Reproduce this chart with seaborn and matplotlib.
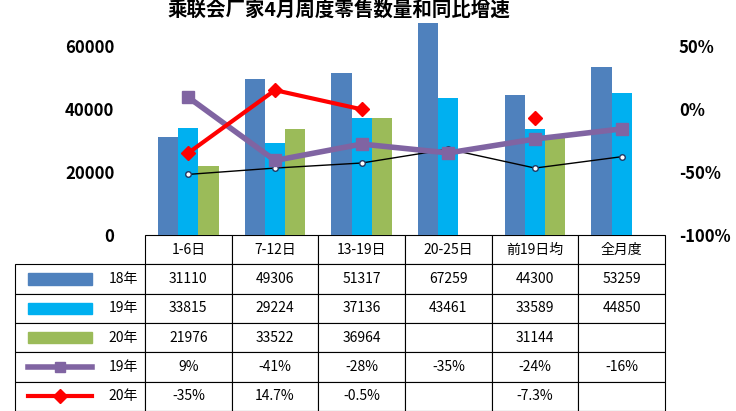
import matplotlib
matplotlib.use("Agg")
import matplotlib.pyplot as plt
from matplotlib import font_manager
from matplotlib.lines import Line2D
from matplotlib.patches import Rectangle
import seaborn as sns
import numpy as np
import pandas as pd

cjk = [f.name for f in font_manager.fontManager.ttflist if "CJK" in f.name]
plt.rcParams["font.family"] = "sans-serif"
plt.rcParams["font.sans-serif"] = ["Noto Sans CJK SC"] + sorted(set(cjk)) + ["DejaVu Sans"]

categories = ["1-6日", "7-12日", "13-19日", "20-25日", "前19日均", "全月度"]
sales_18 = [31110, 49306, 51317, 67259, 44300, 53259]
sales_19 = [33815, 29224, 37136, 43461, 33589, 44850]
sales_20 = [21976, 33522, 36964, np.nan, 31144, np.nan]
yoy_19 = [9, -41, -28, -35, -24, -16]
yoy_20 = [-35, 14.7, -0.5, np.nan, -7.3, np.nan]
yoy_other = [-52, -47, -43, -32, -47, -38]  # unlabeled black line

row_labels = ["18年", "19年", "20年", "19年", "20年"]
yoy19_txt = ["9%", "-41%", "-28%", "-35%", "-24%", "-16%"]
yoy20_txt = ["-35%", "14.7%", "-0.5%", "", "-7.3%", ""]

c18, c19, c20 = "#4F81BD", "#00B0F0", "#9BBB59"
purple, red = "#8064A2", "#FF0000"

df = pd.DataFrame({
    "cat": categories * 3,
    "series": ["18年"] * 6 + ["19年"] * 6 + ["20年"] * 6,
    "val": sales_18 + sales_19 + sales_20,
})

fig = plt.figure(figsize=(7.36, 4.11), dpi=100)
ax = fig.add_axes([145 / 736, 1 - 235 / 411, 520 / 736, 221 / 411])
sns.barplot(data=df, x="cat", y="val", hue="series", order=categories,
            palette=[c18, c19, c20], width=0.7, ax=ax, legend=False, saturation=1)
ax.set_ylim(0, 70000)
ax.set_yticks([0, 20000, 40000, 60000])
ax.set_xlim(-0.5, 5.5)
ax.set_xlabel("")
ax.set_ylabel("")
ax.set_xticks([])
for s in ax.spines.values():
    s.set_visible(False)
ax.tick_params(axis="y", length=0, labelsize=12, pad=22)
for t in ax.get_yticklabels():
    t.set_fontweight("bold")

ax2 = ax.twinx()
x = np.arange(6)
ax2.plot(x, yoy_other, color="black", lw=1, marker="o", ms=4, mfc="white", mec="#1F3864")
ax2.plot(x, yoy_19, color=purple, lw=4, marker="s", ms=8)
ax2.plot(x, yoy_20, color=red, lw=3, marker="D", ms=7)
ax2.set_ylim(-100, 75)
ax2.set_yticks([-100, -50, 0, 50])
ax2.set_yticklabels(["-100%", "-50%", "0%", "50%"])
ax2.tick_params(axis="y", length=0, labelsize=12, pad=10)
for t in ax2.get_yticklabels():
    t.set_fontweight("bold")
for s in ax2.spines.values():
    s.set_visible(False)

fig.text(0.46, 0.975, "乘联会厂家4月周度零售数量和同比增速", ha="center", va="center",
         fontsize=14, fontweight="bold")

# data table below the bars
fmt = lambda v: "" if np.isnan(v) else f"{int(v)}"
rows = [
    [""] + categories,
    [""] + [fmt(v) for v in sales_18],
    [""] + [fmt(v) for v in sales_19],
    [""] + [fmt(v) for v in sales_20],
    [""] + yoy19_txt,
    [""] + yoy20_txt,
]
lab_w = 130 / 520
th = 176 / 221
tbl = ax.table(cellText=rows, bbox=[-lab_w, -th, 1 + lab_w, th],
               colWidths=[lab_w] + [1 / 6] * 6, cellLoc="center")
tbl.auto_set_font_size(False)
tbl.set_fontsize(10)
for (r, c), cell in tbl.get_celld().items():
    cell.set_linewidth(0.8)
    if r == 0 and c == 0:
        cell.set_edgecolor("white")

row_h = th / 6
swatch = [c18, c19, c20]
x0, x1 = (28 - 145) / 520, (92 - 145) / 520
for i, lab in enumerate(row_labels):
    yc = -row_h * (i + 1.5)
    if i < 3:
        ax.add_patch(Rectangle((x0, yc - 0.025), x1 - x0, 0.05, transform=ax.transAxes,
                               color=swatch[i], clip_on=False))
    else:
        col, mk, lw = (purple, "s", 4) if i == 3 else (red, "D", 3)
        ax.add_line(Line2D([x0, x1], [yc, yc], transform=ax.transAxes, color=col,
                           lw=lw, clip_on=False))
        ax.add_line(Line2D([(x0 + x1) / 2], [yc], transform=ax.transAxes, color=col,
                           marker=mk, ms=7, clip_on=False))
    ax.text((138 - 145) / 520, yc, lab, transform=ax.transAxes, ha="right",
            va="center", fontsize=10)

fig.savefig("out.png", dpi=100, facecolor="white")
